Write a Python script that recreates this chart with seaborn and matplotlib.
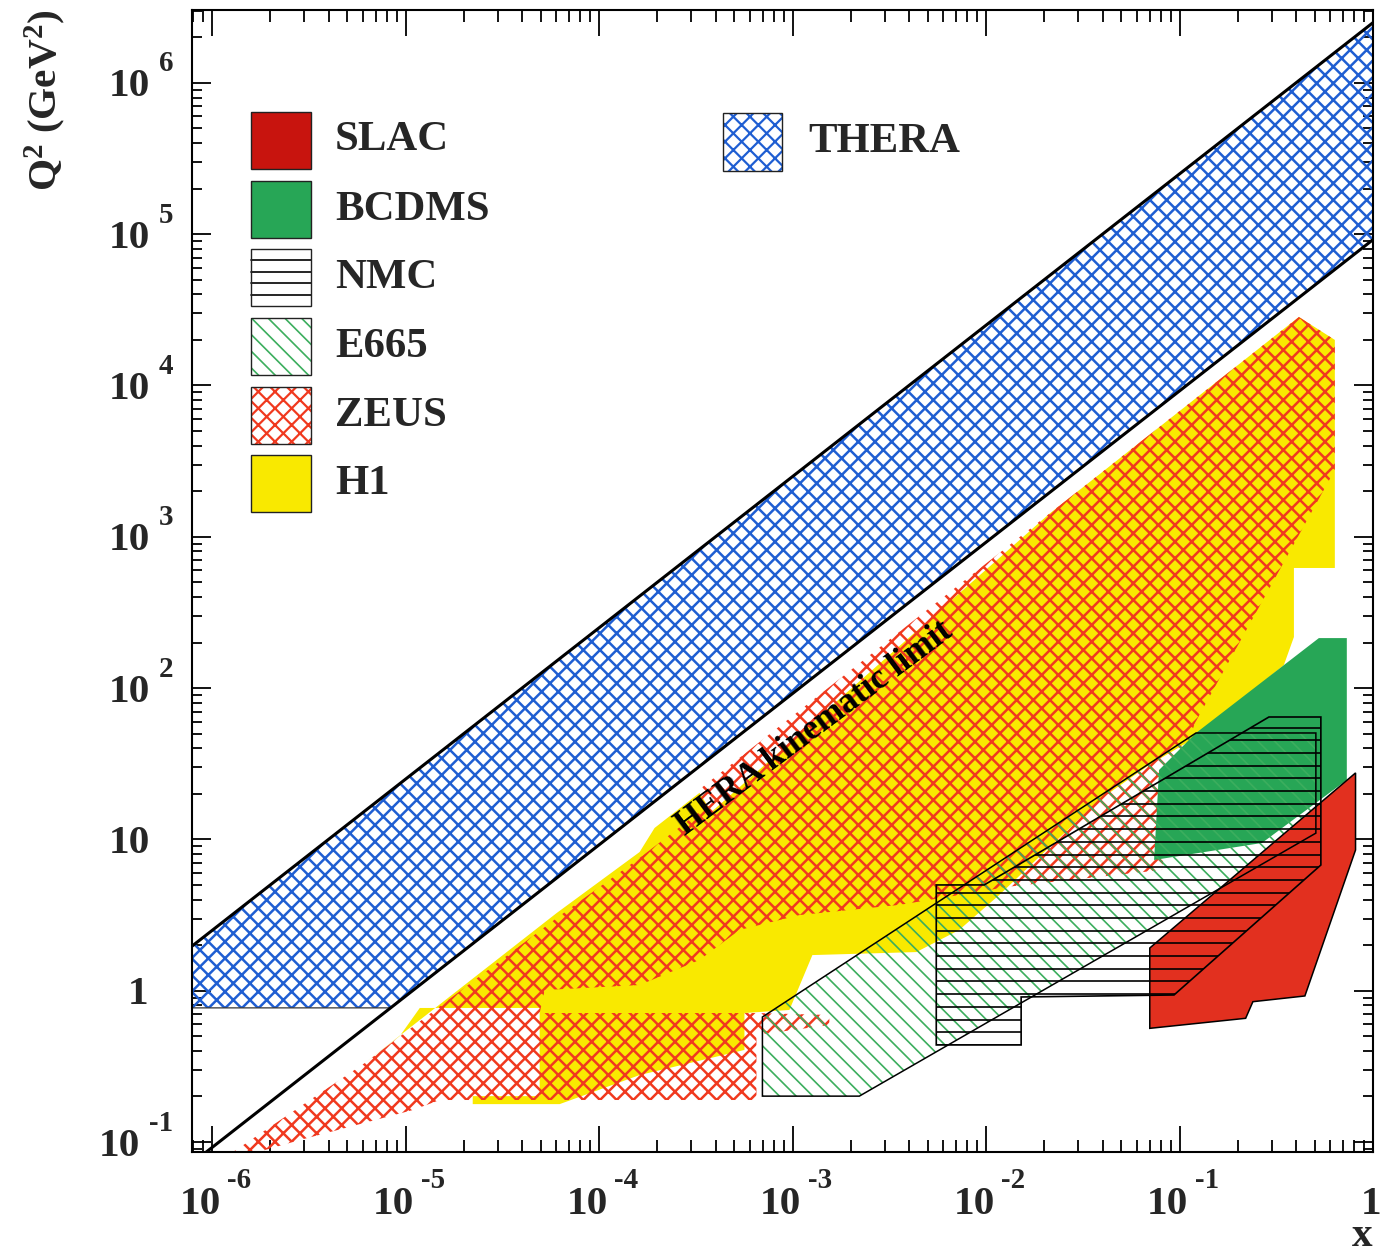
import numpy as np
import matplotlib
matplotlib.use("Agg")
import matplotlib.pyplot as plt
import seaborn as sns
import pandas as pd
from matplotlib.patches import Polygon, Rectangle

# ------------------------------------------------------------------ data
x_range = [7.88e-7, 1.0]
q2_range = [0.0859, 3.03e6]

# kinematic limits (end points)
thera_line_x = [7.88e-7, 1.0]
thera_line_q2 = [1.97, 2.5e6]
hera_line_x = [9.34e-7, 1.0]
hera_line_q2 = [0.0859, 9.2e4]

thera_x = [7.88e-7, 1.0, 1.0, 8.4e-6, 7.88e-7]
thera_q2 = [1.97, 2.5e6, 9.2e4, 0.77, 0.77]

slac_x = [0.0702, 0.8124, 0.8124, 0.4446, 0.2395, 0.2197, 0.0702]
slac_q2 = [1.915, 27.5, 8.51, 0.923, 0.846, 0.657, 0.564]

bcdms_x = [0.1217, 0.5251, 0.7323, 0.7323, 0.2667, 0.0739, 0.0784]
bcdms_q2 = [50.5, 214.0, 214.0, 24.7, 9.47, 7.31, 28.75]

e665_x = [6.99e-4, 0.1217, 0.5067, 0.5067, 2.215e-3, 6.99e-4]
e665_q2 = [0.670, 50.5, 50.5, 11.0, 0.201, 0.201]

nmc_x = [5.533e-3, 9.788e-3, 0.2898, 0.5377, 0.5377, 0.09368, 0.01519, 0.01519, 5.533e-3]
nmc_q2 = [5.0, 5.0, 64.4, 64.4, 6.77, 0.937, 0.909, 0.438, 0.438]

h1_x = [6.164e-6, 6.04e-5, 1.621e-4, 1.937e-4, 3.306e-4, 3.814e-4, 2.12e-2, 0.414,
        0.635, 0.635, 0.3902, 0.3902, 0.3463, 0.1202, 0.06963, 0.03841, 0.0117,
        7.271e-3, 4.362e-3, 1.267e-3, 9.638e-4, 5.645e-4, 5.645e-4, 1.621e-4,
        6.26e-5, 2.225e-5, 2.225e-5, 4.935e-5, 4.935e-5, 1.185e-5, 9.346e-6]
h1_q2 = [0.333, 3.26, 8.25, 11.9, 20.3, 15.2, 1415.0, 2.836e4,
         2.0e4, 622.0, 622.0, 217.6, 142.1, 46.8, 31.0, 18.2, 4.29,
         2.52, 1.80, 1.72, 0.746, 0.712, 0.406, 0.277,
         0.178, 0.178, 0.201, 0.201, 0.769, 0.769, 0.502]

zeus_x = [1.283e-6, 6.164e-6, 6.04e-5, 1.621e-4, 3.306e-4, 3.426e-4, 0.414, 0.635,
          0.635, 0.1202, 0.1030, 0.09147, 0.08122, 0.01271, 0.01039, 3.563e-3,
          1.085e-3, 5.319e-4, 3.306e-4, 1.621e-4, 5.238e-5, 4.935e-5, 6.51e-4,
          1.55e-3, 1.55e-3, 6.51e-4, 6.51e-4, 1.504e-5, 1.091e-5, 2.846e-6, 1.728e-6]
zeus_q2 = [0.0859, 0.333, 3.02, 7.54, 15.2, 22.2, 2.836e4, 2.0e4,
           2764.0, 58.8, 33.5, 18.2, 6.28, 4.85, 4.63, 3.69,
           3.16, 2.52, 1.596, 1.09, 1.01, 0.712, 0.712,
           0.691, 0.593, 0.510, 0.1895, 0.1895, 0.1627, 0.1031, 0.0859]

label_pos_x, label_pos_q2 = 1.297e-3, 53.7

x_ticks = [1e-6, 1e-5, 1e-4, 1e-3, 1e-2, 1e-1, 1.0]
x_tick_base = ["10", "10", "10", "10", "10", "10", "1"]
x_tick_exp = ["-6", "-5", "-4", "-3", "-2", "-1", ""]
q2_ticks = [0.1, 1.0, 10.0, 100.0, 1e3, 1e4, 1e5, 1e6]
q2_tick_base = ["10", "1", "10", "10", "10", "10", "10", "10"]
q2_tick_exp = ["-1", "", "", "2", "3", "4", "5", "6"]

legend_names = ["SLAC", "BCDMS", "NMC", "E665", "ZEUS", "H1"]

# ------------------------------------------------------------------ style
sns.set_theme(style="ticks")
plt.rcParams["font.family"] = ["Liberation Serif", "DejaVu Serif"]
plt.rcParams["font.weight"] = "bold"
plt.rcParams["mathtext.fontset"] = "custom"
plt.rcParams["mathtext.rm"] = "Liberation Serif:bold"
plt.rcParams["mathtext.bf"] = "Liberation Serif:bold"
plt.rcParams["mathtext.it"] = "Liberation Serif:bold"
plt.rcParams["mathtext.default"] = "rm"
plt.rcParams["hatch.linewidth"] = 1.8

BLUE = "#1f5ed2"
ZRED = "#f0391f"
YEL = "#f9e900"
GRN = "#27a656"
E665G = "#3cae5e"
SLACR = "#e2301f"
SLAC_LEG = "#c8140e"

DPI = 100
fig = plt.figure(figsize=(1392 / DPI, 1259 / DPI), dpi=DPI)
fig.patch.set_facecolor("white")
ax = fig.add_axes([192 / 1392, 1 - 1152 / 1259, 1181 / 1392, 1142 / 1259])
ax.set_facecolor("white")
ax.set_xscale("log")
ax.set_yscale("log")
ax.set_xlim(x_range)
ax.set_ylim(q2_range)


def make_hatched(cls, args, color, hatch, z, hlw, **kw):
    with plt.rc_context({"hatch.linewidth": hlw}):
        p = cls(*args, facecolor=kw.pop("facecolor", "none"), edgecolor=color, lw=0,
                hatch=hatch, zorder=z, **kw)
    if hasattr(p, "set_hatch_linewidth"):
        p.set_hatch_linewidth(hlw)
    ax.add_patch(p)
    return p


def hatched_poly(xs, ys, color, hatch, z, hlw=1.8):
    return make_hatched(Polygon, (np.column_stack([xs, ys]),), color, hatch, z, hlw, closed=True)


def outline_poly(xs, ys, z, lw=1.1, color="black"):
    p = Polygon(np.column_stack([xs, ys]), closed=True, fill=False,
                edgecolor=color, lw=lw, zorder=z)
    ax.add_patch(p)
    return p


# H1 (solid yellow)
ax.fill(h1_x, h1_q2, color=YEL, lw=0, zorder=1)
# ZEUS (red cross hatch)
hatched_poly(zeus_x, zeus_q2, ZRED, "xx", 2, 1.8)
# BCDMS (solid green)
ax.fill(bcdms_x, bcdms_q2, color=GRN, lw=0, zorder=3)
# E665 (green diagonal hatch)
hatched_poly(e665_x, e665_q2, E665G, "\\\\", 4, 1.2)
# SLAC
ax.fill(slac_x, slac_q2, color=SLACR, lw=0, zorder=5)
outline_poly(slac_x, slac_q2, 5.5)
# NMC (horizontal lines)
nmc_patch = outline_poly(nmc_x, nmc_q2, 6.5, lw=1.2)
nmc_hatch_levels = 10 ** np.arange(np.log10(min(nmc_q2)), np.log10(max(nmc_q2)) + 0.01, 0.0839)
lc = ax.hlines(nmc_hatch_levels, min(nmc_x), max(nmc_x), colors="black", lw=1.2, zorder=6)
lc.set_clip_path(nmc_patch)
outline_poly(e665_x, e665_q2, 7)

# THERA band
hatched_poly(thera_x, thera_q2, BLUE, "xx", 8, 1.8)
outline_poly(thera_x, thera_q2, 8.5, lw=0.9, color="#333333")

# kinematic limit lines
df_lines = pd.DataFrame({
    "x": thera_line_x + hera_line_x,
    "q2": thera_line_q2 + hera_line_q2,
    "line": ["THERA"] * 2 + ["HERA"] * 2,
})
sns.lineplot(data=df_lines, x="x", y="q2", units="line", estimator=None,
             color="black", lw=2.2, ax=ax, zorder=9, legend=False)
ax.set_xlim(x_range)
ax.set_ylim(q2_range)

ax.text(label_pos_x, label_pos_q2, "HERA kinematic limit", rotation=36.8,
        rotation_mode="anchor", ha="center", va="center", fontsize=25.3,
        fontweight="bold", color="black", zorder=10)

# ------------------------------------------------------------------ axes
ax.set_xticks(x_ticks)
ax.set_yticks(q2_ticks)
ax.xaxis.set_minor_locator(matplotlib.ticker.LogLocator(base=10, subs=np.arange(2, 10), numticks=50))
ax.yaxis.set_minor_locator(matplotlib.ticker.LogLocator(base=10, subs=np.arange(2, 10), numticks=50))
ax.tick_params(which="both", direction="in", top=True, right=True,
               labelbottom=False, labelleft=False, width=1.3, color="black")
ax.tick_params(axis="x", which="major", length=18.7)
ax.tick_params(axis="x", which="minor", length=8.8)
ax.tick_params(axis="y", which="major", length=13.7)
ax.tick_params(axis="y", which="minor", length=7.2)
for s in ax.spines.values():
    s.set_linewidth(1.5)
    s.set_color("black")
    s.set_zorder(20)
ax.set_xlabel("")
ax.set_ylabel("")

BASE_FS, EXP_FS = 29.7, 20.9
yax = ax.get_yaxis_transform()
for val, base, ex in zip(q2_ticks, q2_tick_base, q2_tick_exp):
    bx = -52 if len(ex) > 1 else (-44 if base == "1" else -42)
    ax.annotate(base, xy=(0, val), xycoords=yax, xytext=(bx, -13.5), textcoords="offset pixels",
                ha="right", va="baseline", fontsize=BASE_FS, fontweight="bold", annotation_clip=False)
    if ex:
        ax.annotate(ex, xy=(0, val), xycoords=yax, xytext=(bx + 9, 11.5), textcoords="offset pixels",
                    ha="left", va="baseline", fontsize=EXP_FS, fontweight="bold", annotation_clip=False)

xax = ax.get_xaxis_transform()
for val, base, ex in zip(x_ticks, x_tick_base, x_tick_exp):
    bx = -12 if ex else -2
    ax.annotate(base, xy=(val, 0), xycoords=xax, xytext=(bx, -61.5), textcoords="offset pixels",
                ha="center", va="baseline", fontsize=BASE_FS, fontweight="bold", annotation_clip=False)
    if ex:
        ax.annotate(ex, xy=(val, 0), xycoords=xax, xytext=(15, -35.5), textcoords="offset pixels",
                    ha="left", va="baseline", fontsize=EXP_FS, fontweight="bold", annotation_clip=False)


def fx(px):
    return (px - 192) / 1181


def fy(py):
    return (1152 - py) / 1142


ax.text(fx(45), fy(100), r"$Q^{2}$ (GeV$^{2}$)", rotation=90, transform=ax.transAxes,
        ha="center", va="center", fontsize=29.7, fontweight="bold")
ax.text(fx(1362), fy(1236), "x", transform=ax.transAxes, ha="center", va="center",
        fontsize=29.7, fontweight="bold")

# ------------------------------------------------------------------ legend
def legend_box(left, top, w, h, label, text_x, kind):
    x0, y0 = fx(left), fy(top + h)
    ww, hh = w / 1181, h / 1142
    if kind == "SLAC":
        ax.add_patch(Rectangle((x0, y0), ww, hh, transform=ax.transAxes,
                               facecolor=SLAC_LEG, lw=0, zorder=30))
    elif kind == "BCDMS":
        ax.add_patch(Rectangle((x0, y0), ww, hh, transform=ax.transAxes,
                               facecolor=GRN, lw=0, zorder=30))
    elif kind == "H1":
        ax.add_patch(Rectangle((x0, y0), ww, hh, transform=ax.transAxes,
                               facecolor=YEL, lw=0, zorder=30))
    elif kind == "NMC":
        for k in range(1, 5):
            yy = y0 + hh * k / 5
            ax.plot([x0, x0 + ww], [yy, yy], transform=ax.transAxes, color="black",
                    lw=1.2, zorder=31)
    else:
        col, hat = {"E665": (E665G, "\\\\"), "ZEUS": (ZRED, "xx"), "THERA": (BLUE, "xx")}[kind]
        make_hatched(Rectangle, ((x0, y0), ww, hh), col, hat, 30,
                     1.2 if kind == "E665" else 1.6, facecolor="white",
                     transform=ax.transAxes)
    ax.add_patch(Rectangle((x0, y0), ww, hh, transform=ax.transAxes, fill=False,
                           edgecolor="#222222", lw=1.0, zorder=32))
    ax.text(fx(text_x), y0 + hh / 2, label, transform=ax.transAxes, ha="left",
            va="center", fontsize=30.8, fontweight="bold", zorder=33)


legend_tops = [112, 181, 249, 318, 387, 455]
for name, top in zip(legend_names, legend_tops):
    legend_box(251, top, 60, 57, name, 335, name)
legend_box(723, 113, 59, 58, "THERA", 808, "THERA")

fig.savefig("out.png", dpi=DPI, facecolor="white")
